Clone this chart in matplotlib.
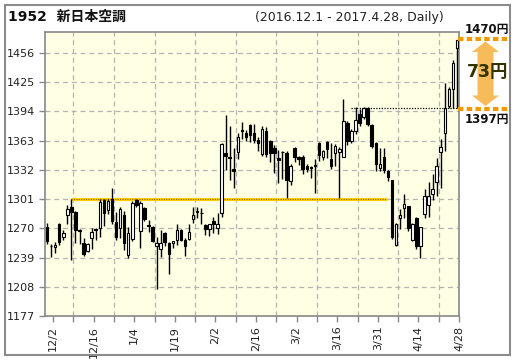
import matplotlib
matplotlib.use("Agg")
import matplotlib.pyplot as plt
from matplotlib.patches import Rectangle, Polygon
import numpy as np

plt.rcParams['font.family'] = ['DejaVu Sans', 'Noto Sans CJK JP']

# daily OHLC, 2016.12.1 - 2017.4.28 (102 trading days)
opens = [1271, 1251, 1250, 1274, 1261, 1284, 1292, 1287, 1268, 1254,
         1246, 1260, 1269, 1270, 1300, 1289, 1301, 1277, 1270, 1284,
         1242, 1259, 1300, 1267, 1291, 1273, 1271, 1251.5, 1248, 1265,
         1254, 1254, 1258, 1268, 1258, 1259, 1280, 1288, 1286, 1273,
         1269, 1278, 1270, 1286, 1350, 1346, 1333, 1351, 1374.5, 1371,
         1379, 1371, 1364, 1349, 1373, 1363, 1355, 1344, 1351, 1350,
         1320, 1355, 1346, 1346, 1336, 1335, 1337, 1360, 1346, 1361,
         1343, 1350, 1351, 1346, 1382, 1362, 1373, 1391, 1388, 1397,
         1379, 1360, 1334, 1346, 1331, 1321, 1252, 1281, 1291, 1294,
         1258, 1281, 1251, 1285, 1295, 1306, 1319, 1351, 1371, 1400,
         1418, 1461]
highs = [1276, 1253, 1255, 1276, 1268, 1295, 1301, 1288, 1269, 1260,
         1254, 1270, 1270, 1301, 1301, 1301, 1313, 1287, 1293, 1288,
         1271, 1299, 1301, 1299, 1293, 1279, 1272, 1261, 1268, 1266,
         1255, 1257, 1274, 1269, 1260, 1274, 1292, 1293, 1291, 1274,
         1275, 1282, 1286, 1360, 1390, 1378, 1355, 1371, 1383, 1374,
         1380, 1380, 1367, 1378, 1377, 1364, 1358, 1353, 1352, 1352,
         1338, 1356, 1347, 1348, 1338, 1336, 1343, 1361, 1353, 1362,
         1360, 1359, 1356, 1407, 1384, 1375, 1398, 1396, 1399, 1398,
         1380, 1361, 1355, 1355, 1332, 1321, 1276, 1290, 1306, 1294,
         1276, 1282, 1271, 1312, 1319, 1327, 1344, 1365, 1424, 1420,
         1448, 1470]
lows = [1253, 1240, 1244, 1252, 1258, 1274, 1236, 1254, 1253, 1241,
        1245, 1248, 1258, 1261, 1272, 1285, 1275, 1258, 1260, 1247,
        1238, 1257, 1293, 1249, 1278, 1266, 1255, 1206, 1240, 1251,
        1222, 1249, 1252, 1257, 1241, 1258, 1276, 1281, 1275, 1263,
        1262, 1265, 1264, 1282, 1332, 1321, 1313, 1343, 1365, 1362,
        1361, 1360, 1352, 1347, 1346, 1340, 1329, 1318, 1322, 1302,
        1316, 1340, 1337, 1327, 1330, 1323, 1307, 1341, 1342, 1344,
        1333, 1336, 1302, 1345, 1358, 1360, 1370, 1378, 1386, 1378,
        1355, 1331, 1331, 1329, 1320, 1259, 1251, 1269, 1281, 1267,
        1256, 1248, 1238, 1281, 1282, 1300, 1304, 1313, 1352, 1397,
        1397, 1397]
closes = [1257, 1251.5, 1252, 1255, 1265, 1290, 1287, 1268, 1267, 1243,
          1253, 1266, 1268, 1298, 1286, 1299, 1278, 1261, 1290, 1254,
          1265, 1297, 1295, 1297, 1280, 1272.5, 1257, 1254, 1254, 1255,
          1243, 1256, 1268, 1258, 1251, 1266, 1284, 1287, 1286.5, 1269,
          1274, 1274, 1274, 1359, 1347, 1344, 1331, 1367, 1373, 1367,
          1369, 1364, 1360, 1375, 1349, 1350, 1350, 1342, 1350.5, 1321,
          1336, 1346, 1343, 1333, 1333, 1334, 1336, 1348, 1352, 1354,
          1336, 1357, 1354, 1384, 1362, 1373, 1385, 1382, 1397, 1380,
          1357, 1338, 1338, 1332, 1324, 1261, 1275, 1284, 1296, 1270,
          1274, 1251, 1271, 1304, 1304, 1312, 1336, 1356, 1397, 1418,
          1445, 1470]

tick_labels = ['12/2', '12/16', '1/4', '1/19', '2/2', '2/16',
               '3/2', '3/16', '3/31', '4/14', '4/28']
yticks = [1177, 1208, 1239, 1270, 1301, 1332, 1363, 1394, 1425, 1456]

support = 1301
resistance = 1397
high_mark = 1470

fig = plt.figure(figsize=(5.17, 3.64), dpi=100)
ax = fig.add_axes([45 / 517, 48 / 364, 414 / 517, 284 / 364])
ax.set_facecolor('#ffffe4')

x = np.arange(len(opens))
o = np.array(opens, dtype=float)
c = np.array(closes, dtype=float)
ax.vlines(x, lows, highs, color='black', lw=1, zorder=3)
bottom = np.minimum(o, c)
height = np.maximum(np.abs(c - o), 0.6)
colors = ['white' if cc >= oo else 'black' for oo, cc in zip(o, c)]
ax.bar(x, height, bottom=bottom, width=0.62, color=colors,
       edgecolor='black', linewidth=0.8, zorder=4)

# support / resistance lines
ax.hlines(support, 6, 83.8, color='#ffcc00', lw=2.2, zorder=2)
ax.hlines(support, 6, 83.8, color='#7a5a00', lw=0.7, linestyles=(0, (1, 1.5)), zorder=2)
ax.plot([75, 102.3], [resistance, resistance], color='black', lw=0.9,
        ls=(0, (1, 1.2)), zorder=5, clip_on=False)

ax.set_xlim(-0.5, 101.5)
ax.set_ylim(1177, 1478)
ax.set_yticks(yticks)
ax.set_yticklabels([str(v) for v in yticks], fontsize=8, color='#222222')
ax.set_xticks(np.arange(1, 102, 10) + 0.5)
ax.set_xticklabels(tick_labels, rotation=90, fontsize=8, color='#222222')
ax.set_xticks(np.arange(1, 102, 5) + 0.5, minor=True)
ax.tick_params(axis='both', which='both', color='#888888', length=4, width=1)
ax.tick_params(axis='x', which='major', pad=3)
ax.grid(True, which='minor', axis='x', color='#b4b4b4', ls=(0, (4, 3)), lw=0.9)
ax.grid(True, which='major', axis='y', color='#b4b4b4', ls=(0, (4, 3)), lw=0.9)
ax.set_axisbelow(True)
for sp in ax.spines.values():
    sp.set_color('#888888')
    sp.set_linewidth(1.2)

# overlay in pixel coordinates for the frame and annotations
ov = fig.add_axes([0, 0, 1, 1], zorder=10)
ov.set_xlim(0, 517)
ov.set_ylim(364, 0)
ov.axis('off')
ov.patch.set_alpha(0)
ov.add_patch(Rectangle((5, 5), 505, 350, fill=False, ec='#8c8c8c', lw=1.5))

ov.text(8, 17, '1952  新日本空調', fontsize=10, fontweight='bold',
        va='center', ha='left', color='#111111')
ov.text(444, 17, '(2016.12.1 - 2017.4.28, Daily)', fontsize=9,
        va='center', ha='right', color='#222222')

orange = '#f39800'
ov.plot([458, 510], [38.5, 38.5], color=orange, lw=3, ls=(0, (1.3, 0.8)),
        solid_capstyle='butt', dash_capstyle='butt')
ov.plot([458, 510], [109, 109], color=orange, lw=3, ls=(0, (1.3, 0.8)),
        solid_capstyle='butt', dash_capstyle='butt')
ov.text(509, 29, f'{high_mark}円', fontsize=8.5, fontweight='bold',
        ha='right', va='center', color='#111111')
ov.text(509, 119.5, f'{resistance}円', fontsize=8.5, fontweight='bold',
        ha='right', va='center', color='#111111')

cx = 485.5
arrow = [(cx, 41.5), (cx + 13.5, 52), (cx + 8, 52), (cx + 8, 95.5),
         (cx + 13.5, 95.5), (cx, 106), (cx - 13.5, 95.5), (cx - 8, 95.5),
         (cx - 8, 52), (cx - 13.5, 52)]
ov.add_patch(Polygon(arrow, closed=True, fc='#f8bb5a', ec='none'))
ov.text(488, 72, f'{high_mark - resistance}円', fontsize=12.5, fontweight='bold',
        ha='center', va='center', color='#333300')

fig.savefig('out.png', dpi=100)
